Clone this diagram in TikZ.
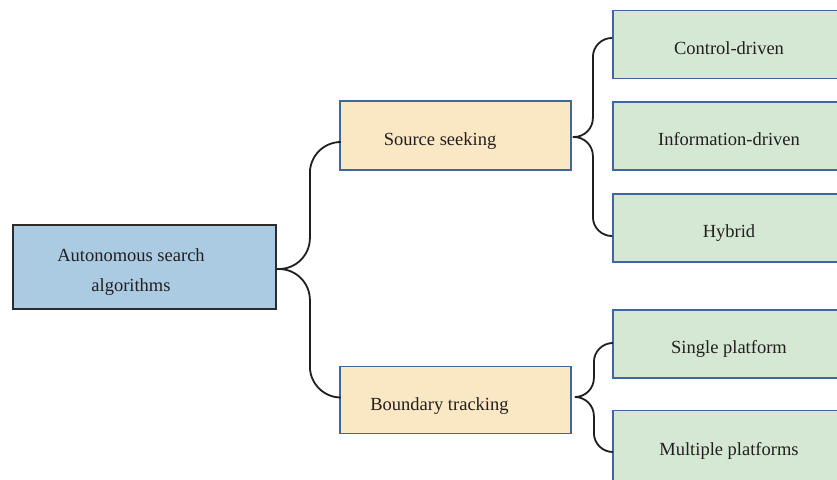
\documentclass[tikz,border=0pt]{standalone}
\usepackage{fontspec}
\setmainfont{Liberation Serif}
\definecolor{rootfill}{HTML}{ABCBE3}
\definecolor{midfill}{HTML}{FAE7C3}
\definecolor{leaffill}{HTML}{D5E8D3}
\definecolor{boxedge}{HTML}{41669E}
\definecolor{inkgray}{HTML}{231F20}
\begin{document}
\begin{tikzpicture}[x=1pt,y={(0pt,-1pt)},
  every node/.style={font=\fontsize{18.5}{29.5}\selectfont, text=inkgray},
  basebox/.style={draw, line width=1.8pt, inner sep=0pt},
  rootbox/.style={basebox, draw=inkgray!95, fill=rootfill, minimum width=263pt, minimum height=84pt},
  midbox/.style={basebox, draw=boxedge, fill=midfill, minimum width=231pt},
  leafbox/.style={basebox, draw=boxedge, fill=leaffill, minimum width=232pt, minimum height=68pt,
                  text height=23pt, text depth=4pt},
  label/.style={anchor=base, inner sep=0pt},
  conn/.style={draw=black!88, line width=1.8pt}
]
\useasboundingbox (0,0) rectangle (837,479);
\clip (0,0) rectangle (837,479);

% root
\node[rootbox] (root) at (144.5,267) {};
\node[align=center, inner sep=0pt] (rootT) at (131,272) {Autonomous search\\algorithms};

% second level
\node[midbox, minimum height=69pt] (src) at (455.5,135.5) {};
\node[label] (srcT) at (440,145) {Source seeking};
\node[midbox, minimum height=67pt] (bnd) at (455.5,400) {};
\node[label] (bndT) at (439.5,410) {Boundary tracking};

% leaves
\node[leafbox] (ctrl)   at (729,44.5) {Control-driven};
\node[leafbox] (info)   at (729,136)  {Information-driven};
\node[leafbox] (hyb)    at (729,228)  {Hybrid};
\node[leafbox] (single) at (729,344)  {Single platform};
\node[leafbox, minimum height=74pt, text depth=8pt] (multi) at (729,447.5) {Multiple platforms};

% brace: root to second level
\draw[conn, rounded corners=31pt]
  ([yshift=-2pt]root.east) -- ++(33,0) |- ([yshift=-6.5pt]src.west);
\draw[conn, rounded corners=31pt]
  ([yshift=-2pt]root.east) -- ++(33,0) |- ([yshift=2.5pt]bnd.west);

% brace: source seeking to its leaves
\draw[conn, rounded corners=19pt]
  ([xshift=1pt,yshift=-1.5pt]src.east) -- ++(20,0) |- ([yshift=6.5pt]ctrl.west);
\draw[conn, rounded corners=19pt]
  ([xshift=1pt,yshift=-1.5pt]src.east) -- ++(20,0) |- ([yshift=-8pt]hyb.west);

% brace: boundary tracking to its leaves
\draw[conn, rounded corners=19pt]
  ([xshift=3pt,yshift=3pt]bnd.east) -- ++(19,0) |- ([yshift=1pt]single.west);
\draw[conn, rounded corners=19pt]
  ([xshift=3pt,yshift=3pt]bnd.east) -- ++(19,0) |- ([yshift=-4.5pt]multi.west);
\end{tikzpicture}
\end{document}
